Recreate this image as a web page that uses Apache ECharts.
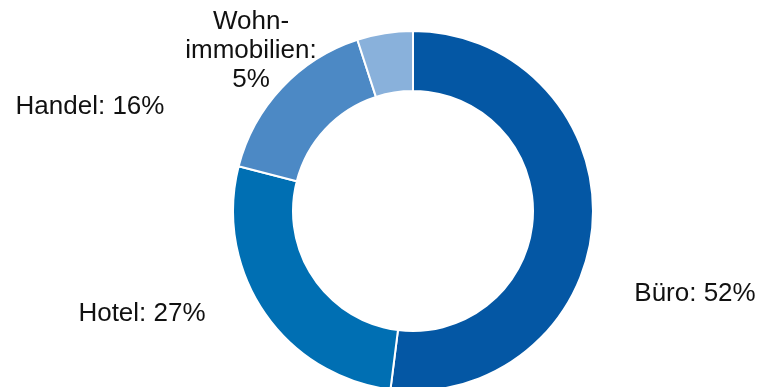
<!DOCTYPE html>
<html>
<head>
<meta charset="utf-8">
<script src="https://cdn.jsdelivr.net/npm/echarts@6/dist/echarts.min.js"></script>
<style>
html,body{margin:0;padding:0;background:#fff;}
#chart{width:762px;height:387px;}
</style>
</head>
<body>
<div id="chart"></div>
<script>
const categories = ['Büro', 'Hotel', 'Handel', 'Wohnimmobilien'];
const labelTexts = ['Büro: 52%', 'Hotel: 27%', 'Handel: 16%', 'Wohn-\nimmobilien:\n5%'];
const values = [52, 27, 16, 5];
const colors = ['#0457A4', '#006FB3', '#4C89C5', '#89B1DB'];
const labelPos = [[695, 294], [142, 314], [90, 107], [251, 51]];

const chart = echarts.init(document.getElementById('chart'));
chart.setOption({
  animation: false,
  series: [{
    type: 'pie',
    center: [413, 211],
    radius: [120, 180],
    startAngle: 90,
    clockwise: true,
    data: values.map((v, i) => ({
      name: categories[i],
      value: v,
      itemStyle: { color: colors[i] },
      label: { formatter: labelTexts[i] }
    })),
    itemStyle: { borderColor: '#fff', borderWidth: 2 },
    label: {
      show: true,
      position: 'outside',
      fontFamily: 'Liberation Sans, Arial, sans-serif',
      fontSize: 26,
      lineHeight: 29,
      color: '#111',
      align: 'center',
      overflow: 'none'
    },
    labelLine: { show: false },
    labelLayout: function (p) {
      const pos = labelPos[p.dataIndex];
      return { x: pos[0], y: pos[1], align: 'center', verticalAlign: 'middle', width: 200 };
    },
    emphasis: { disabled: true }
  }]
});
</script>
</body>
</html>
